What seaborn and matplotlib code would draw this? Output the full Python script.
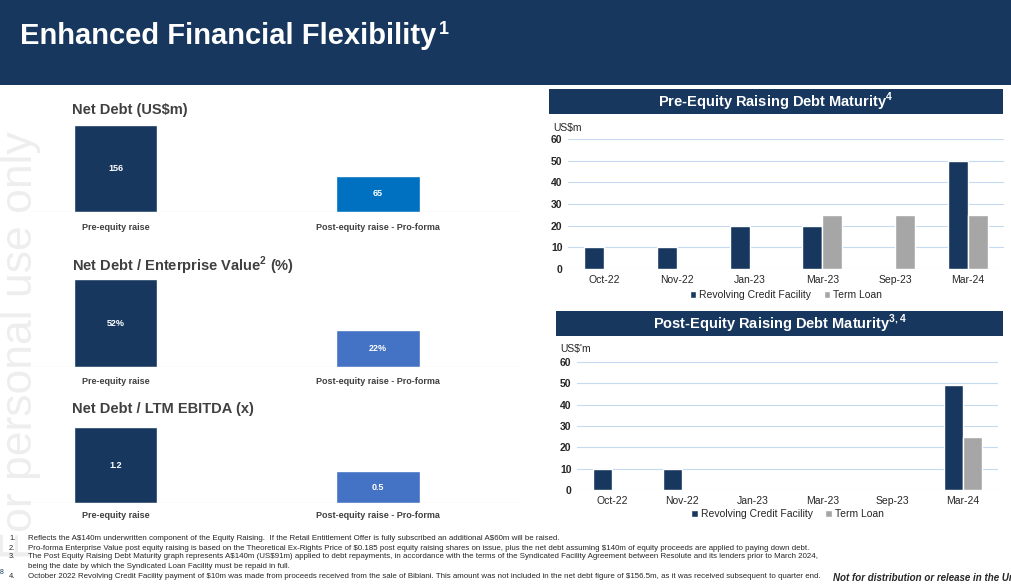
import matplotlib.pyplot as plt
import pandas as pd
import seaborn as sns

W, H = 1012, 585

# Left panel data
left_cats = ["Pre-equity raise", "Post-equity raise - Pro-forma"]
net_debt = [156, 65]
nd_ev = [52, 22]
nd_ebitda = [1.2, 0.5]

# Right panel data
months = ["Oct-22", "Nov-22", "Jan-23", "Mar-23", "Sep-23", "Mar-24"]
pre_rcf = [10, 10, 20, 20, 0, 50]
pre_tl = [0, 0, 0, 25, 25, 25]
post_rcf = [10, 10, 0, 0, 0, 49]
post_tl = [0, 0, 0, 0, 0, 25]

NAVY = "#17375E"
GREY = "#A6A6A6"

sns.set_theme(style="white")
plt.rcParams["font.family"] = ["Liberation Sans", "DejaVu Sans"]
plt.rcParams["mathtext.fontset"] = "custom"
plt.rcParams["mathtext.rm"] = "Liberation Sans:bold"

fig = plt.figure(figsize=(W / 100, H / 100), dpi=100)


def rect(x0, y0, x1, y1):
    return [x0 / W, 1 - y1 / H, (x1 - x0) / W, (y1 - y0) / H]


# watermark
fig.text(0 / W, 1 - 345 / H, "For personal use only", rotation=90, fontsize=32,
         color="#EEEEEE", va="center", ha="left", zorder=0)

# header band
hdr = fig.add_axes(rect(0, 0, W, 85))
hdr.set_facecolor("#17375E")
hdr.set_xticks([]); hdr.set_yticks([])
for s in hdr.spines.values():
    s.set_visible(False)
fig.text(20 / W, 1 - 36 / H, "Enhanced Financial Flexibility", color="white",
         fontsize=21, fontweight="bold", va="center")
fig.text(439 / W, 1 - 29 / H, "1", color="white", fontsize=13, fontweight="bold", va="center")


def left_chart(top, base, vals, title, title_y, colors, fmt, label_y):
    ax = fig.add_axes(rect(30, top, 520, base))
    df = pd.DataFrame({"cat": left_cats, "val": vals})
    sns.barplot(data=df, x="cat", y="val", hue="cat", palette=colors, width=0.317,
                legend=False, ax=ax, saturation=1)
    ax.set_xlim(-0.328, 1.542)
    ax.set_axis_off()
    ax.axhline(0, color="#BFBFBF", lw=0.8)
    for i, v in enumerate(vals):
        ax.text(i, v / 2, fmt(v), color="white", fontsize=6.5, fontweight="bold",
                ha="center", va="center")
        fig.text((116 + 262 * i) / W, 1 - label_y / H, left_cats[i],
                 fontsize=6.5, color="#404040", fontweight="bold", ha="center", va="center")
    fig.text(72 / W, 1 - title_y / H, title, fontsize=10.5, fontweight="bold",
             color="#404040", va="center")
    return ax


ax1 = left_chart(115, 212, net_debt, "Net Debt (US$m)", 110, [NAVY, "#0070C0"],
                 lambda v: f"{v}", 227)
ax1.set_ylim(0, 156 * 97 / 87)
ax2 = left_chart(270, 367, nd_ev, "Net Debt / Enterprise Value$^{2}$ (%)", 266,
                 [NAVY, "#4472C4"], lambda v: f"{v}%", 381)
ax2.set_ylim(0, 52 * 97 / 88)
ax3 = left_chart(420, 503, nd_ebitda, "Net Debt / LTM EBITDA (x)", 409,
                 [NAVY, "#4472C4"], lambda v: f"{v}", 516)
ax3.set_ylim(0, 1.2 * 83 / 76)


def right_chart(box, axr, rcf, tl, unit, unit_xy, title, legend_y):
    bx = fig.add_axes(rect(*box))
    bx.set_facecolor(NAVY)
    bx.set_xticks([]); bx.set_yticks([])
    for s in bx.spines.values():
        s.set_visible(False)
    bx.text(0.5, 0.5, title, color="white", fontsize=10.5, fontweight="bold",
            ha="center", va="center", transform=bx.transAxes)
    ax = fig.add_axes(rect(*axr))
    df = pd.DataFrame({
        "month": months * 2,
        "val": rcf + tl,
        "series": ["Revolving Credit Facility"] * 6 + ["Term Loan"] * 6,
    })
    sns.barplot(data=df, x="month", y="val", hue="series", palette=[NAVY, GREY],
                width=0.55, saturation=1, ax=ax, legend=True)
    ax.set_xlim(-0.5, 5.5)
    ax.set_ylim(0, 60)
    ax.set_yticks(range(0, 61, 10))
    ax.yaxis.grid(True, color="#C5D9F1", lw=0.8)
    ax.set_axisbelow(True)
    for s in ax.spines.values():
        s.set_visible(False)
    ax.set_xlabel(""); ax.set_ylabel("")
    ax.tick_params(axis="both", length=0, labelsize=7.5, pad=4)
    for t in ax.get_yticklabels():
        t.set_fontweight("bold")
    ax.set_xticks(range(6))
    ax.set_xticklabels(months, fontsize=7.5)
    ax.legend(loc="center", bbox_to_anchor=(0.5, -(legend_y - axr[3]) / (axr[3] - axr[1])),
              ncol=2, frameon=False, fontsize=7.5, handlelength=0.6, handleheight=0.6,
              columnspacing=1.2, handletextpad=0.3)
    fig.text(unit_xy[0] / W, 1 - unit_xy[1] / H, unit, fontsize=7.5, va="center")
    return ax


right_chart((549, 89, 1003, 114), (568, 139, 1004, 269), pre_rcf, pre_tl, "US$m",
            (553, 128), "Pre-Equity Raising Debt Maturity$^{4}$", 295)
right_chart((556, 311, 1003, 336), (577, 362, 998, 490), post_rcf, post_tl, "US$'m",
            (560, 349), "Post-Equity Raising Debt Maturity$^{3,4}$", 514)

notes = [
    (539, "1.", "Reflects the A$140m underwritten component of the Equity Raising.  If the Retail Entitlement Offer is fully subscribed an additional A$60m will be raised."),
    (548, "2.", "Pro-forma Enterprise Value post equity raising is based on the Theoretical Ex-Rights Price of $0.185 post equity raising shares on issue, plus the net debt assuming $140m of equity proceeds are applied to paying down debt."),
    (557, "3.", "The Post Equity Raising Debt Maturity graph represents A$140m (US$91m) applied to debt repayments, in accordance with the terms of the Syndicated Facility Agreement between Resolute and its lenders prior to March 2024,"),
    (566, "", "being the date by which the Syndicated Loan Facility must be repaid in full."),
    (577, "4.", "October 2022 Revolving Credit Facility payment of $10m was made from proceeds received from the sale of Bibiani. This amount was not included in the net debt figure of $156.5m, as it was received subsequent to quarter end."),
]
for y, n, t in notes:
    fig.text(9 / W, 1 - y / H, n, fontsize=5.4, va="center")
    fig.text(28 / W, 1 - y / H, t.replace("$", r"\$"), fontsize=5.7, va="center")
fig.text(0, 1 - 572 / H, "8", fontsize=5, va="center", color="#17375E")
fig.text(833 / W, 1 - 578 / H, "Not for distribution or release in the United States",
         fontsize=7, fontstyle="italic", fontweight="bold", va="center")

fig.savefig("out.png", dpi=100)
